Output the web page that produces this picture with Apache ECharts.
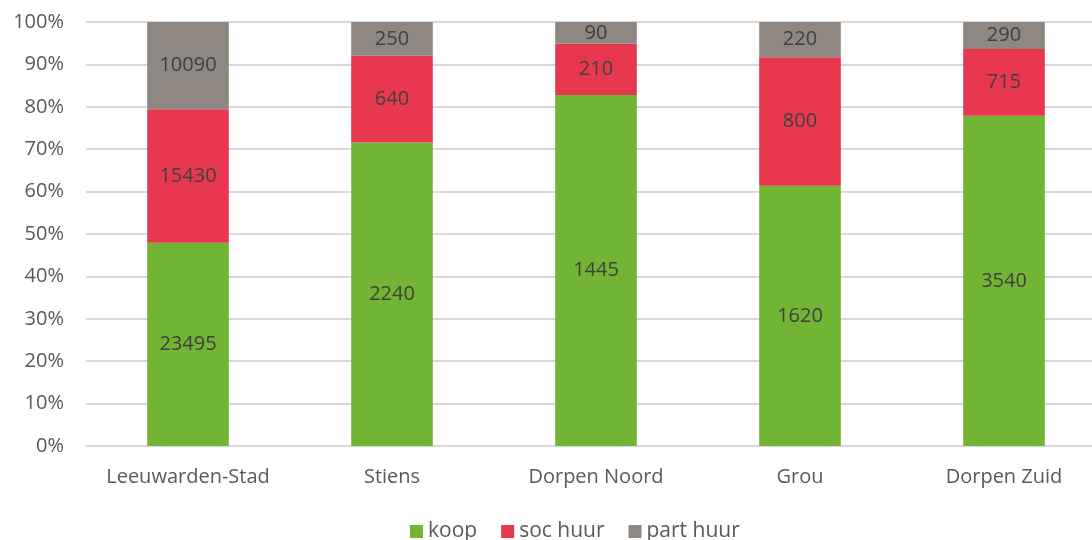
<!DOCTYPE html>
<html>
<head>
<meta charset="utf-8">
<script src="https://cdn.jsdelivr.net/npm/echarts@6/dist/echarts.min.js"></script>
<style>
  html, body { margin: 0; padding: 0; background: #fff; overflow: hidden; }
  #chart { width: 1106px; height: 540px; }
</style>
</head>
<body>
<div id="chart"></div>
<script>
const categories = ['Leeuwarden-Stad', 'Stiens', 'Dorpen Noord', 'Grou', 'Dorpen Zuid']
const koop = [23495, 2240, 1445, 1620, 3540]
const socHuur = [15430, 640, 210, 800, 715]
const partHuur = [10090, 250, 90, 220, 290]

const totals = categories.map((c, i) => koop[i] + socHuur[i] + partHuur[i])
const toPct = arr => arr.map((v, i) => ({ value: v / totals[i] * 100, raw: v }))

const font = '"Open Sans", sans-serif'

const makeSeries = (name, arr, color) => ({
  name: name,
  type: 'bar',
  stack: 'total',
  barWidth: '40%',
  data: toPct(arr),
  itemStyle: { color: color },
  label: {
    show: true,
    position: 'inside',
    color: '#404040',
    fontSize: 20,
    fontFamily: font,
    formatter: p => p.data.raw
  }
})

const chart = echarts.init(document.getElementById('chart'))
chart.setOption({
  animation: false,
  grid: { left: 86, right: 0, top: 22, bottom: 94 },
  legend: {
    top: 516,
    left: 405,
    itemWidth: 13,
    itemHeight: 13,
    itemGap: 24,
    icon: 'rect',
    textStyle: { color: '#595959', fontSize: 21, fontFamily: font }
  },
  xAxis: {
    type: 'category',
    data: categories,
    axisLine: { lineStyle: { color: '#d9d9d9', width: 2 } },
    axisTick: { show: false },
    axisLabel: { color: '#595959', fontSize: 20, fontFamily: font, margin: 21, interval: 0 }
  },
  yAxis: {
    type: 'value',
    min: 0,
    max: 100,
    interval: 10,
    axisLine: { show: false },
    axisTick: { show: false },
    axisLabel: { color: '#595959', fontSize: 20, fontFamily: font, margin: 22, formatter: '{value}%' },
    splitLine: { lineStyle: { color: '#d9d9d9', width: 2 } }
  },
  series: [
    makeSeries('koop', koop, '#72b535'),
    makeSeries('soc huur', socHuur, '#e8384f'),
    makeSeries('part huur', partHuur, '#8f8781')
  ]
})
</script>
</body>
</html>
